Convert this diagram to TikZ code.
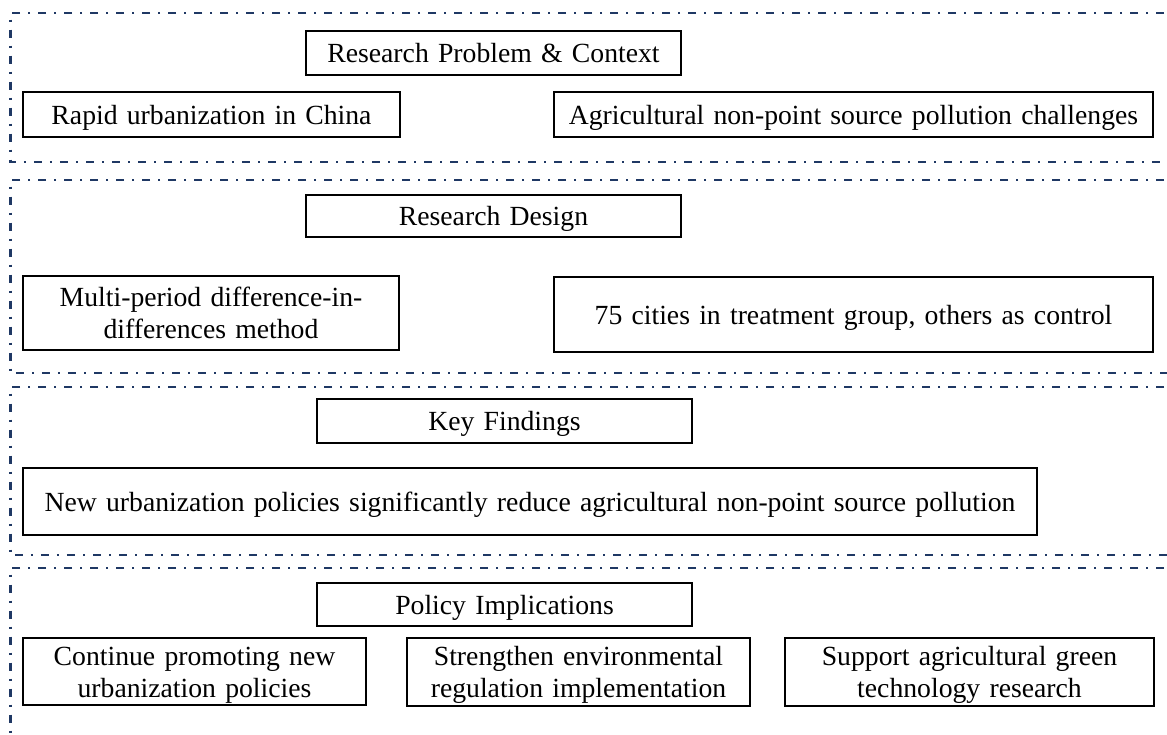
\documentclass[tikz,border=0pt]{standalone}
\usepackage{fontspec}
\setmainfont{Liberation Serif}
\definecolor{framenavy}{RGB}{31,56,100}
\begin{document}
\begin{tikzpicture}[x=1pt,y=-1pt,
  sectionframe/.style={draw=framenavy,line width=2.1pt,
    dash pattern=on 8pt off 8pt on 2pt off 8pt},
  box/.style={draw=black,line width=1.8pt,inner sep=0pt,align=center,
    font=\fontsize{27.7}{32}\selectfont,text height=19pt,text depth=0pt},
  boxwh/.style 2 args={box,minimum width=#1pt,minimum height=#2pt,text width=#1pt-12pt},
  twoline/.style={text depth=32pt}]
\useasboundingbox (0,0) rectangle (1167,734);
\begin{scope}
\clip (0,0) rectangle (1167,734);
% dash-dot section frames (right side runs off the page)
\draw[sectionframe] (1190,13) -- (10.5,13) -- (10.5,162) -- (1190,162);
\draw[sectionframe] (1190,180) -- (10.5,180) -- (10.5,373) -- (1190,373);
\draw[sectionframe] (1190,387) -- (10.5,387) -- (10.5,555) -- (1190,555);
\draw[sectionframe] (1190,568) -- (10.5,568) -- (10.5,760);
\end{scope}
% section 1: research problem and context
\node[boxwh={375}{44}] (rpc) at (493.5,53) {Research Problem \& Context};
\node[boxwh={377}{45}] (rapid) at (211.5,114.5) {Rapid urbanization in China};
\node[boxwh={599}{45}] (agri) at (853.5,114.5) {Agricultural non-point source pollution challenges};
% section 2: research design
\node[boxwh={375}{42}] (rd) at (493.5,216) {Research Design};
\node[boxwh={376}{74},twoline] (multi) at (211,313) {Multi-period difference-in-\\differences method};
\node[boxwh={599}{75}] (cities) at (853.5,314.5) {75 cities in treatment group, others as control};
% section 3: key findings
\node[boxwh={375}{44}] (kf) at (504.5,421) {Key Findings};
\node[boxwh={1014}{67}] (newurb) at (530,501.5) {New urbanization policies significantly reduce agricultural non-point source pollution};
% section 4: policy implications
\node[boxwh={375}{43}] (pi) at (504.5,604.5) {Policy Implications};
\node[boxwh={343}{67},twoline] (cont) at (194.5,671.5) {Continue promoting new\\urbanization policies};
\node[boxwh={343}{68},twoline] (stren) at (578.5,672) {Strengthen environmental\\regulation implementation};
\node[boxwh={369}{68},twoline] (supp) at (969.5,672) {Support agricultural green\\technology research};
\end{tikzpicture}
\end{document}
